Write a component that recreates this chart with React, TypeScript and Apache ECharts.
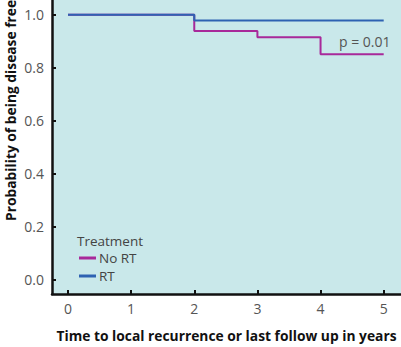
import React, { useEffect, useRef } from "react";
import * as echarts from "echarts";

const xTicks = [0, 1, 2, 3, 4, 5];
const yTicks = [0, 0.2, 0.4, 0.6, 0.8, 1.0];
const seriesNames = ["No RT", "RT"];
const noRtTimes = [0, 2, 3, 4, 5];
const noRtValues = [1.0, 0.938, 0.915, 0.851, 0.851];
const rtTimes = [0, 2, 5];
const rtValues = [1.0, 0.978, 0.978];
const pText = "p = 0.01";
const legendTitle = "Treatment";
const xName = "Time to local recurrence or last follow up in years";
const yName = "Probability of being disease free";

const FONT = "Open Sans";

export default function App() {
  const ref = useRef<HTMLDivElement>(null);
  useEffect(() => {
    if (!ref.current) return;
    const chart = echarts.init(ref.current, null, { renderer: "svg" });
    const legendBase = {
      orient: "vertical",
      left: 79,
      itemWidth: 17,
      itemHeight: 3,
      icon: "rect",
      padding: 0,
      textStyle: { fontFamily: FONT, fontSize: 13.5, color: "#444", lineHeight: 16, padding: [0, 0, 0, -2] },
    };
    chart.setOption({
      animation: false,
      backgroundColor: "#ffffff",
      textStyle: { fontFamily: FONT },
      grid: {
        left: 52,
        right: 0,
        top: 0,
        bottom: 47,
        show: true,
        backgroundColor: "#c9e8ea",
        borderWidth: 0,
      },
      legend: [
        { ...legendBase, data: [seriesNames[0]], top: 250 },
        { ...legendBase, data: [seriesNames[1]], top: 268 },
      ],
      xAxis: {
        type: "value",
        min: -0.253,
        max: 5.274,
        splitLine: { show: false },
        axisLine: { show: true, onZero: false, lineStyle: { color: "#111", width: 2.5 } },
        axisTick: { show: true, inside: true, length: 4, customValues: xTicks, lineStyle: { color: "#111", width: 2 } },
        axisLabel: { customValues: xTicks, margin: 7, fontSize: 14, color: "#555", fontFamily: FONT },
        name: xName,
        nameLocation: "middle",
        nameGap: 34,
        nameTextStyle: { fontSize: 13.8, fontWeight: "bold", color: "#111", fontFamily: FONT },
      },
      yAxis: {
        type: "value",
        min: -0.0556,
        max: 1.0556,
        splitLine: { show: false },
        axisLine: { show: true, onZero: false, lineStyle: { color: "#111", width: 2.5 } },
        axisTick: { show: true, inside: true, length: 4, customValues: yTicks, lineStyle: { color: "#111", width: 2 } },
        axisLabel: {
          customValues: yTicks,
          margin: 8,
          fontSize: 14,
          color: "#555",
          fontFamily: FONT,
          formatter: (v: number) => v.toFixed(1),
        },
      },
      graphic: [
        {
          type: "text",
          x: 10,
          y: 221,
          rotation: Math.PI / 2,
          style: {
            text: yName,
            fontSize: 13.8,
            fontWeight: "bold",
            fill: "#111",
            fontFamily: FONT,
            textAlign: "left",
            textVerticalAlign: "middle",
          },
        },
        {
          type: "text",
          x: 77,
          y: 241,
          style: {
            text: legendTitle,
            fontSize: 13.5,
            fill: "#444",
            fontFamily: FONT,
            textAlign: "left",
            textVerticalAlign: "middle",
          },
        },
        {
          type: "text",
          x: 339,
          y: 41,
          style: {
            text: pText,
            fontSize: 14,
            fill: "#555",
            fontFamily: FONT,
            textAlign: "left",
            textVerticalAlign: "middle",
          },
        },
      ],
      series: [
        {
          name: seriesNames[0],
          type: "line",
          step: "end",
          symbol: "none",
          color: "#a8299a",
          lineStyle: { width: 2, color: "#a8299a" },
          data: noRtTimes.map((t, i) => [t, noRtValues[i]]),
        },
        {
          name: seriesNames[1],
          type: "line",
          step: "end",
          symbol: "none",
          color: "#2e62b2",
          lineStyle: { width: 2, color: "#2e62b2" },
          data: rtTimes.map((t, i) => [t, rtValues[i]]),
        },
      ],
    });
    return () => chart.dispose();
  }, []);
  return (
    <div
      ref={ref}
      style={{ position: "absolute", left: 0, top: 0, width: 401, height: 347 }}
    />
  );
}
